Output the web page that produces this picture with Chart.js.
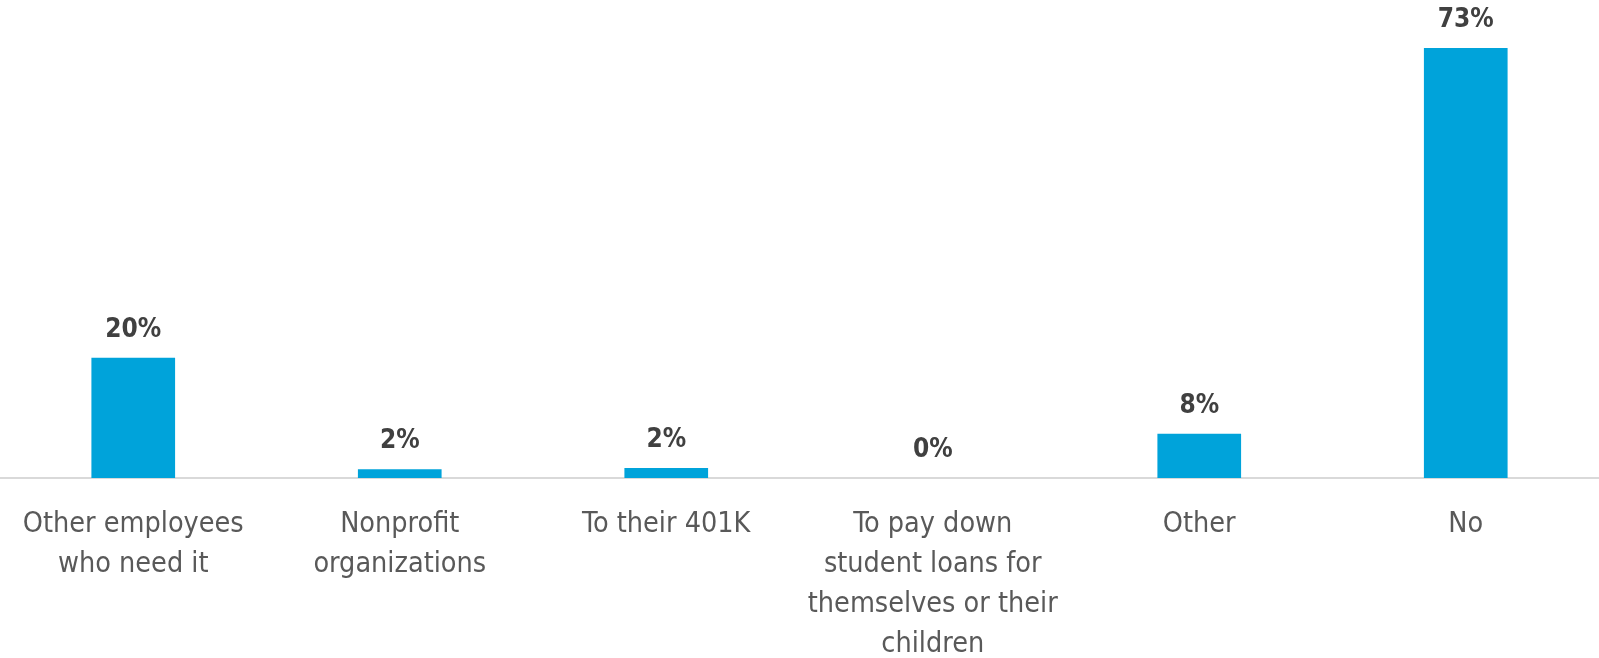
<!DOCTYPE html>
<html>
<head>
<meta charset="utf-8">
<script src="https://cdn.jsdelivr.net/npm/chart.js@4"></script>
<style>
  html, body { margin: 0; padding: 0; background: #fff; }
  #wrap { width: 1599px; height: 658px; position: relative; }
</style>
</head>
<body>
<div id="wrap"><canvas id="myChart"></canvas></div>
<script>
// categories (wrapped the same way as the original)
var categories = [
    ['Other employees', 'who need it'],
    ['Nonprofit', 'organizations'],
    'To their 401K',
    ['To pay down', 'student loans for', 'themselves or their', 'children'],
    'Other',
    'No'
];

// share of respondents, %
var shares = [20.4, 1.5, 1.7, 0, 7.5, 73];

var labelFont = '"Liberation Sans Narrow", "DejaVu Sans Condensed", Lato, sans-serif';

// draws the "20%" style labels above each bar
var valueLabels = {
    id: 'valueLabels',
    afterDatasetsDraw: function (chart) {
        var ctx = chart.ctx;
        var meta = chart.getDatasetMeta(0);
        ctx.save();
        ctx.fillStyle = '#404040';
        ctx.font = 'bold 26px ' + labelFont;
        ctx.textAlign = 'center';
        ctx.textBaseline = 'bottom';
        meta.data.forEach(function (bar, i) {
            ctx.fillText(Math.round(shares[i]) + '%', bar.x, bar.y - 15);
        });
        ctx.restore();
    }
};

var ctx = document.getElementById('myChart').getContext('2d');
var chart = new Chart(ctx, {
    type: 'bar',
    data: {
        labels: categories,
        datasets: [{
            data: shares,
            backgroundColor: '#00a3da',
            barPercentage: 1,
            categoryPercentage: 0.314
        }]
    },
    options: {
        responsive: true,
        maintainAspectRatio: false,
        animation: false,
        layout: { padding: { top: 48, left: 0, right: 0, bottom: 0 } },
        plugins: {
            legend: { display: false },
            tooltip: { enabled: false }
        },
        scales: {
            x: {
                grid: { display: false, drawTicks: false },
                border: { display: true, color: '#d9d9d9', width: 2 },
                ticks: {
                    color: '#595959',
                    font: { family: labelFont, size: 28.5, lineHeight: 1.4 },
                    padding: 27,
                    maxRotation: 0,
                    autoSkip: false
                },
                afterFit: function (scale) {
                    scale.height = 180;
                    // labels may hang over the edges, keep the plot full width
                    scale.paddingLeft = 0;
                    scale.paddingRight = 0;
                }
            },
            y: {
                display: false,
                min: 0,
                max: 73
            }
        }
    },
    plugins: [valueLabels]
});
</script>
</body>
</html>
